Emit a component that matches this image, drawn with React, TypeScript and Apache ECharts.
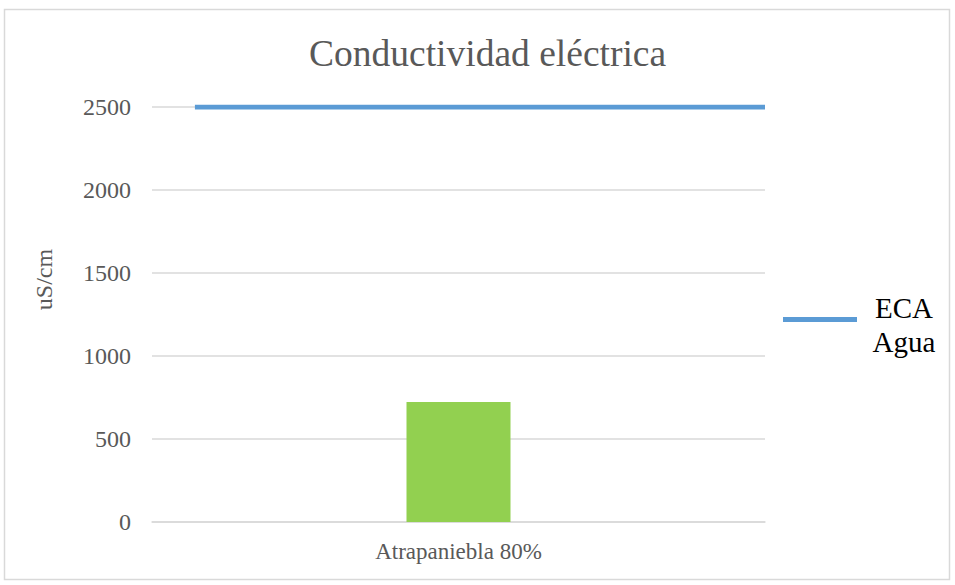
import React, { useEffect, useRef } from "react";
import * as echarts from "echarts";

const categories = ["Atrapaniebla 80%"];
const barValues = [723];
const ecaName = "ECA Agua";
const ecaPoints: [number, number][] = [
  [7, 2500],
  [100, 2500],
];
const yTicks = { min: 0, max: 2500, interval: 500 };

const FONT = "Liberation Serif";

export default function App() {
  const ref = useRef<HTMLDivElement>(null);
  useEffect(() => {
    if (!ref.current) return;
    const chart = echarts.init(ref.current, undefined, { renderer: "svg" });
    chart.setOption({
      animation: false,
      backgroundColor: "#ffffff",
      textStyle: { fontFamily: FONT },
      title: {
        text: "Conductividad eléctrica",
        left: 304,
        top: 29,
        textStyle: { fontFamily: FONT, fontSize: 37.5, fontWeight: "normal", color: "#595959" },
      },
      graphic: [
        {
          type: "rect",
          shape: { x: 4.5, y: 9.5, width: 945, height: 570 },
          style: { fill: "none", stroke: "#d9d9d9", lineWidth: 1.5 },
          silent: true,
        },
      ],
      legend: {
        left: 778,
        top: 288,
        orient: "vertical",
        icon: "rect",
        itemWidth: 74,
        itemHeight: 5,
        data: [ecaName],
        formatter: () => "{a|ECA}\n{a|Agua}",
        textStyle: {
          fontFamily: FONT,
          color: "#000000",
          padding: [10, 0, 0, 0],
          rich: {
            a: { fontFamily: FONT, fontSize: 29, lineHeight: 34, color: "#000000", width: 84, align: "center" },
          },
        },
      },
      grid: { left: 152, right: 190, top: 107, bottom: 63 },
      xAxis: [
        {
          type: "category",
          data: categories,
          axisLine: { show: true, lineStyle: { color: "#d9d9d9", width: 1.5 } },
          axisTick: { show: false },
          axisLabel: { fontFamily: FONT, fontSize: 23, color: "#595959", margin: 18 },
        },
        { type: "value", min: 0, max: 100, show: false },
      ],
      yAxis: {
        type: "value",
        min: yTicks.min,
        max: yTicks.max,
        interval: yTicks.interval,
        name: "uS/cm",
        nameLocation: "middle",
        nameRotate: 90,
        nameGap: 96,
        nameTextStyle: { fontFamily: FONT, fontSize: 24, color: "#595959", padding: [0, 0, 0, 70] },
        axisLine: { show: false },
        axisTick: { show: false },
        splitLine: { lineStyle: { color: "#d9d9d9", width: 1.5 } },
        axisLabel: {
          fontFamily: FONT,
          fontSize: 24,
          color: "#595959",
          margin: 21,
          formatter: (v: number) => String(v),
        },
      },
      series: [
        {
          type: "bar",
          name: "Atrapaniebla",
          data: barValues,
          barWidth: 104,
          itemStyle: { color: "#92D050" },
        },
        {
          type: "line",
          name: ecaName,
          xAxisIndex: 1,
          data: ecaPoints,
          symbol: "none",
          lineStyle: { color: "#5B9BD5", width: 5 },
          itemStyle: { color: "#5B9BD5" },
        },
      ],
    });
    return () => chart.dispose();
  }, []);
  return (
    <div
      ref={ref}
      style={{ position: "fixed", left: 0, top: 0, width: 955, height: 585 }}
    />
  );
}
